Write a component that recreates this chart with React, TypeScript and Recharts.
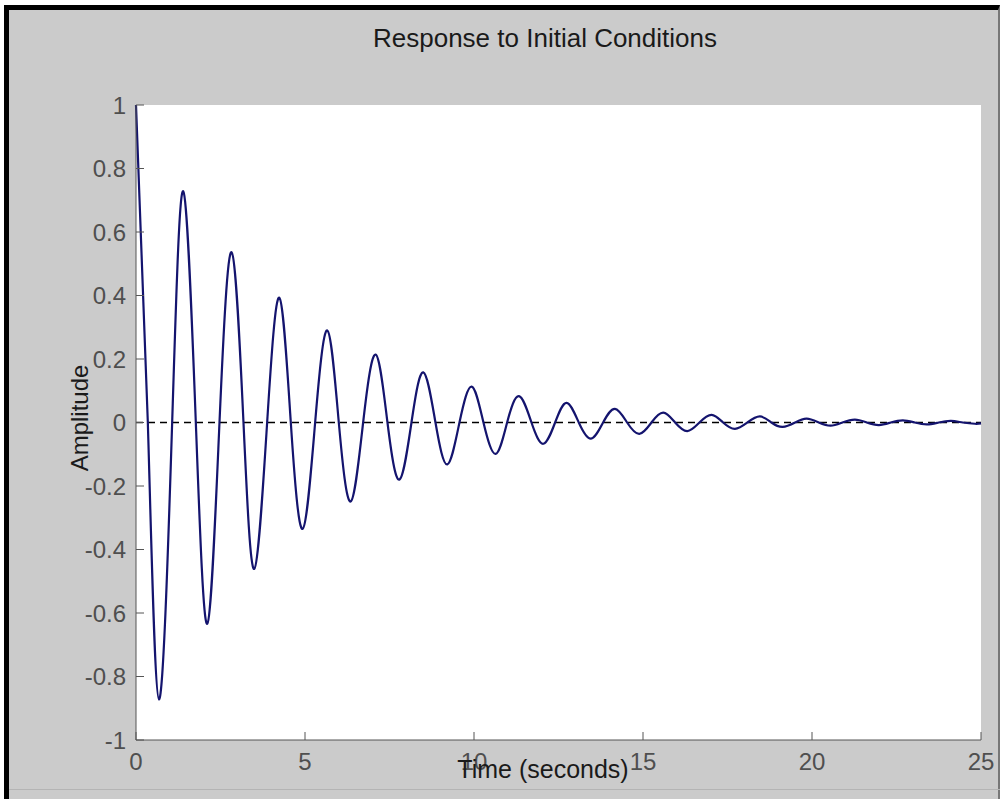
import { LineChart, Line, XAxis, YAxis, CartesianGrid, ReferenceLine } from 'recharts';

// time (s) of peaks, troughs and zero crossings
const timeValues = [
  0, 0.35, 0.68, 1.07, 1.4, 1.77, 2.11, 2.47, 2.83, 3.18, 3.5, 3.88, 4.24, 4.58, 4.93, 5.3,
  5.66, 6.0, 6.35, 6.72, 7.09, 7.44, 7.79, 8.15, 8.5, 8.86, 9.21, 9.57, 9.93, 10.28, 10.64,
  10.98, 11.33, 11.7, 12.05, 12.4, 12.74, 13.1, 13.46, 13.82, 14.17, 14.53, 14.89, 15.25,
  15.6, 15.95, 16.31, 16.67, 17.03, 17.37, 17.72, 18.09, 18.46, 18.8, 19.13, 19.5, 19.84,
  20.2, 20.55, 20.9, 21.27, 21.62, 21.98, 22.33, 22.69, 23.04, 23.4, 23.75, 24.11, 24.46,
  24.82, 25,
];

const amplitudeValues = [
  1.0, 0, -0.872, 0, 0.728, 0, -0.634, 0, 0.536, 0, -0.461, 0, 0.393, 0, -0.335, 0,
  0.29, 0, -0.249, 0, 0.214, 0, -0.18, 0, 0.158, 0, -0.132, 0, 0.113, 0, -0.099,
  0, 0.083, 0, -0.067, 0, 0.062, 0, -0.051, 0, 0.043, 0, -0.036, 0,
  0.031, 0, -0.027, 0, 0.024, 0, -0.02, 0, 0.019, 0, -0.014, 0, 0.012,
  0, -0.01, 0, 0.009, 0, -0.008, 0, 0.007, 0, -0.006, 0, 0.005, 0,
  -0.004, -0.003,
];

const xTicks = [0, 5, 10, 15, 20, 25];
const yTicks = [-1, -0.8, -0.6, -0.4, -0.2, 0, 0.2, 0.4, 0.6, 0.8, 1];

const data = timeValues.map((t, i) => ({ t, y: amplitudeValues[i] }));

const FONT = "'Liberation Sans', Arial, sans-serif";
const AXIS = '#555555';
const tickStyle = { fill: '#4f4f4f', fontSize: 24, fontFamily: FONT };
const hidden = { fill: 'none', fontSize: 1 };

export default function App() {
  return (
    <div style={{ position: 'absolute', left: 0, top: 0, width: 1003, height: 799, background: '#ffffff', overflow: 'hidden' }}>
      <div
        style={{
          position: 'absolute', left: 4, top: 5, width: 996, height: 794, background: '#cbcbcb',
          borderTop: '5px solid #000', borderLeft: '5px solid #000', borderRight: '2px solid #777',
          boxSizing: 'border-box',
        }}
      />
      <div style={{ position: 'absolute', left: 9, top: 789, width: 991, height: 1, background: '#b4b4b4' }} />
      <div style={{ position: 'absolute', left: 0, top: 0 }}>
        <LineChart width={1003} height={799} data={data} margin={{ top: 105, right: 22, bottom: 29, left: 76 }}>
          <CartesianGrid fill="#ffffff" stroke="none" horizontal={false} vertical={false} />
          <XAxis
            dataKey="t" type="number" domain={[0, 25]} ticks={xTicks} height={30}
            axisLine={{ stroke: AXIS }} tickLine={{ stroke: AXIS }} tickSize={-8} tickMargin={21}
            tick={tickStyle} interval={0}
          />
          <XAxis
            xAxisId="top" orientation="top" dataKey="t" type="number" domain={[0, 25]} ticks={xTicks} height={0}
            axisLine={{ stroke: AXIS }} tickLine={{ stroke: AXIS }} tickSize={-8} tick={hidden}
          />
          <YAxis
            type="number" domain={[-1, 1]} ticks={yTicks} width={60}
            axisLine={{ stroke: AXIS }} tickLine={{ stroke: AXIS }} tickSize={-8} tickMargin={18}
            tick={tickStyle} interval={0}
          />
          <YAxis
            yAxisId="right" orientation="right" type="number" domain={[-1, 1]} ticks={yTicks} width={0}
            axisLine={{ stroke: AXIS }} tickLine={{ stroke: AXIS }} tickSize={-8} tick={hidden}
          />
          <ReferenceLine y={0} stroke="#000000" strokeWidth={1.5} strokeDasharray="7 5" />
          <Line
            type="natural" dataKey="y" stroke="#14146e" strokeWidth={2.2}
            dot={false} activeDot={false} isAnimationActive={false}
          />
        </LineChart>
      </div>
      <div style={{ position: 'absolute', left: 545, top: 38, transform: 'translate(-50%, -50%)', fontFamily: FONT, fontSize: 26, color: '#1a1a1a', whiteSpace: 'nowrap' }}>
        Response to Initial Conditions
      </div>
      <div style={{ position: 'absolute', left: 543, top: 769, transform: 'translate(-50%, -50%)', fontFamily: FONT, fontSize: 25, color: '#1a1a1a', whiteSpace: 'nowrap' }}>
        Time (seconds)
      </div>
      <div style={{ position: 'absolute', left: 80, top: 418, transform: 'translate(-50%, -50%) rotate(-90deg)', fontFamily: FONT, fontSize: 24, color: '#1a1a1a', whiteSpace: 'nowrap' }}>
        Amplitude
      </div>
    </div>
  );
}
